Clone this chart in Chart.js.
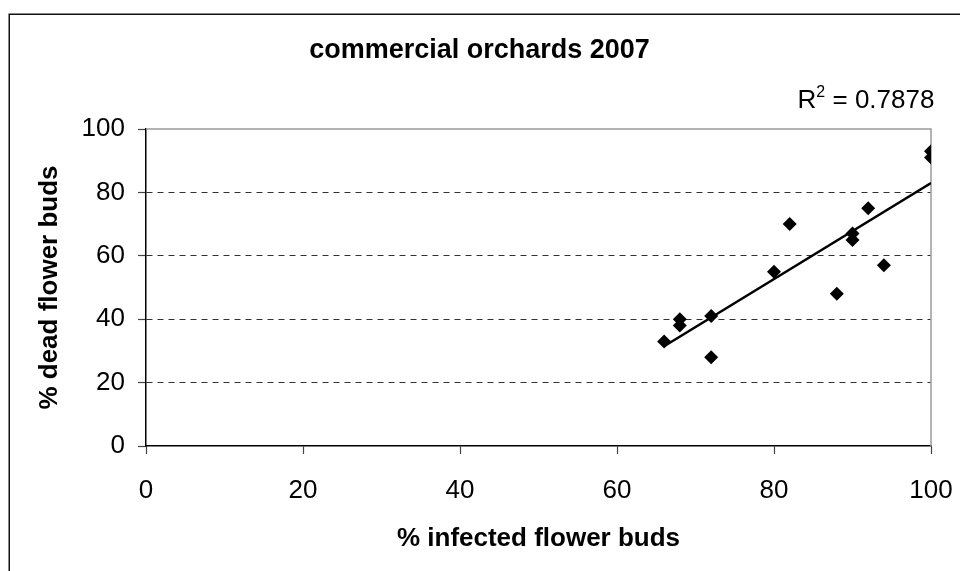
<!DOCTYPE html>
<html>
<head>
<meta charset="utf-8">
<script src="https://cdn.jsdelivr.net/npm/chart.js@4.4.0/dist/chart.umd.min.js"></script>
<style>
html,body{margin:0;padding:0;background:#fff;}
#wrap{width:960px;height:571px;position:relative;}
</style>
</head>
<body>
<div id="wrap"><canvas id="c" width="960" height="571"></canvas></div>
<script>
// ---- data ----
const chartTitle = 'commercial orchards 2007';
const xAxisTitle = '% infected flower buds';
const yAxisTitle = '% dead flower buds';
const infectedBuds = [66, 68, 68, 72, 72, 80, 82, 88, 90, 90, 92, 94, 100, 100];
const deadBuds     = [33, 40, 38, 41, 28, 55, 70, 48, 67, 65, 75, 57, 93, 91];
const xTickValues = [0, 20, 40, 60, 80, 100];
const yTickValues = [0, 20, 40, 60, 80, 100];
const rSquaredText = '0.7878';

// linear least-squares trendline through the data
function trend(xs, ys) {
  const n = xs.length;
  const mx = xs.reduce((a, b) => a + b, 0) / n;
  const my = ys.reduce((a, b) => a + b, 0) / n;
  let sxy = 0, sxx = 0;
  for (let i = 0; i < n; i++) { sxy += (xs[i] - mx) * (ys[i] - my); sxx += (xs[i] - mx) ** 2; }
  const m = sxy / sxx, b = my - m * mx;
  const x0 = Math.min(...xs), x1 = Math.max(...xs);
  return [{x: x0, y: m * x0 + b}, {x: x1, y: m * x1 + b}];
}

const points = infectedBuds.map((x, i) => ({x: x, y: deadBuds[i]}));
const trendPoints = trend(infectedBuds, deadBuds);

const FONT = '"Liberation Sans", Arial, sans-serif';

const decorPlugin = {
  id: 'decor',
  beforeDraw(chart) {
    const ctx = chart.ctx;
    ctx.save();
    ctx.fillStyle = '#fff';
    ctx.fillRect(0, 0, chart.width, chart.height);
    ctx.strokeStyle = '#111';
    ctx.lineWidth = 1.5;
    ctx.strokeRect(9.25, 14.25, 2000, 2000);
    ctx.restore();
  },
  beforeDatasetsDraw(chart) {
    const ctx = chart.ctx, a = chart.chartArea;
    ctx.save();
    ctx.strokeStyle = '#9a9a9a';
    ctx.lineWidth = 1.5;
    ctx.beginPath();
    ctx.moveTo(a.left, a.top);
    ctx.lineTo(a.right, a.top);
    ctx.lineTo(a.right, a.bottom);
    ctx.stroke();
    ctx.restore();
  },
  afterDraw(chart) {
    const ctx = chart.ctx;
    ctx.save();
    ctx.fillStyle = '#000';
    ctx.textBaseline = 'alphabetic';
    ctx.textAlign = 'left';
    const big = '26px ' + FONT, small = '16px ' + FONT;
    const rest = ' = ' + rSquaredText;
    ctx.font = big;
    const wR = ctx.measureText('R').width;
    const wRest = ctx.measureText(rest).width;
    ctx.font = small;
    const wSup = ctx.measureText('2').width;
    const total = wR + wSup + wRest;
    const center = 866, base = 108;
    let x = center - total / 2;
    ctx.font = big;
    ctx.fillText('R', x, base);
    ctx.font = small;
    ctx.fillText('2', x + wR, base - 11);
    ctx.font = big;
    ctx.fillText(rest, x + wR + wSup, base);
    ctx.restore();
  }
};

new Chart(document.getElementById('c'), {
  type: 'scatter',
  data: {
    datasets: [
      {
        label: 'trend',
        type: 'line',
        data: trendPoints,
        borderColor: '#000',
        borderWidth: 2.5,
        pointRadius: 0,
        fill: false,
        order: 0
      },
      {
        label: 'orchards',
        data: points,
        pointStyle: 'rectRot',
        pointRadius: 7,
        pointHoverRadius: 7,
        backgroundColor: '#000',
        borderColor: '#000',
        borderWidth: 0,
        order: 1
      }
    ]
  },
  options: {
    responsive: false,
    devicePixelRatio: 1,
    animation: false,
    events: [],
    layout: {padding: {left: 28, right: 29, top: 0, bottom: 0}},
    plugins: {
      legend: {display: false},
      tooltip: {enabled: false},
      title: {
        display: true,
        text: chartTitle,
        color: '#000',
        font: {family: FONT, size: 27, weight: 'bold', lineHeight: 1.2},
        padding: {top: 34, bottom: 62.6}
      }
    },
    scales: {
      x: {
        type: 'linear',
        min: 0, max: 100,
        afterBuildTicks: s => { s.ticks = xTickValues.map(v => ({value: v})); },
        afterFit: s => { s.height = 125; s.paddingLeft = 0; s.paddingRight = 0; },
        ticks: {color: '#000', font: {family: FONT, size: 26}, padding: 21, maxRotation: 0},
        grid: {drawOnChartArea: false, drawTicks: true, tickLength: 8, tickColor: '#444', tickWidth: 1.2},
        border: {display: true, color: '#000', width: 1.5},
        title: {display: true, text: xAxisTitle, color: '#000',
          font: {family: FONT, size: 26, weight: 'bold', lineHeight: 1.2},
          padding: {top: 0, bottom: 17}}
      },
      y: {
        type: 'linear',
        min: 0, max: 100,
        afterBuildTicks: s => { s.ticks = yTickValues.map(v => ({value: v})); },
        afterFit: s => { s.width = 118; },
        ticks: {color: '#000', font: {family: FONT, size: 26}, padding: 13},
        grid: {
          drawOnChartArea: true, drawTicks: true, tickLength: 8,
          color: c => (c.tick && (c.tick.value === 0 || c.tick.value === 100)) ? 'rgba(0,0,0,0)' : '#333',
          lineWidth: 1,
          tickColor: '#444', tickWidth: 1.2, tickBorderDash: []
        },
        border: {display: true, color: '#000', width: 1.5, dash: [6, 5]},
        title: {display: true, text: yAxisTitle, color: '#000',
          font: {family: FONT, size: 26, weight: 'bold', lineHeight: 1.2},
          padding: {top: 6.5, bottom: 0}}
      }
    }
  },
  plugins: [decorPlugin]
});
</script>
</body>
</html>
